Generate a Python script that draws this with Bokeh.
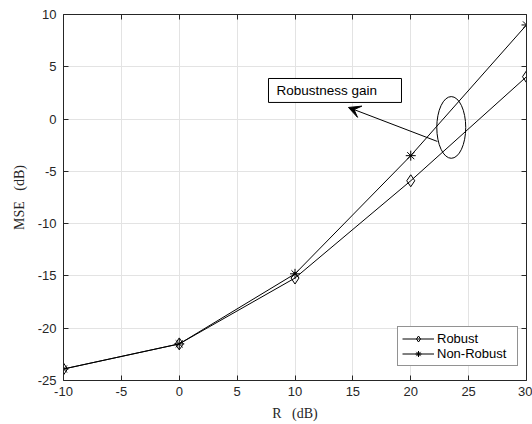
from bokeh.plotting import figure
from bokeh.models import (Range1d, LinearAxis, FixedTicker, Arrow, VeeHead,
                          BoxAnnotation, Label, Legend)
from bokeh.embed import file_html
from bokeh.resources import INLINE

# ---- data ----
R_dB = [-10, 0, 10, 20, 30]
mse_robust = [-23.9, -21.5, -15.2, -5.9, 4.05]
mse_nonrobust = [-23.9, -21.5, -14.8, -3.5, 9.0]
x_ticks = [-10, -5, 0, 5, 10, 15, 20, 25, 30]
y_ticks = [-25, -20, -15, -10, -5, 0, 5, 10]

DARK = "#262626"
SANS = "Liberation Sans"
SERIF = "Liberation Serif"

p = figure(width=532, height=424, output_backend="svg", toolbar_location=None,
           x_range=Range1d(-10, 30), y_range=Range1d(-25, 10),
           min_border_left=63, min_border_right=6, min_border_top=14,
           min_border_bottom=44, x_axis_label="R\u00a0\u00a0\u00a0(dB)",
           y_axis_label="MSE\u00a0\u00a0\u00a0(dB)")
p.outline_line_color = None
p.background_fill_color = "white"

for ax in (p.xaxis[0], p.yaxis[0]):
    ax.major_tick_in = 5
    ax.major_tick_out = 0
    ax.minor_tick_in = 0
    ax.minor_tick_out = 0
    ax.axis_line_color = DARK
    ax.major_tick_line_color = DARK
    ax.major_label_text_color = DARK
    ax.major_label_text_font = SANS
    ax.major_label_text_font_size = "13px"
    ax.axis_label_text_font = SERIF
    ax.axis_label_text_font_style = "normal"
    ax.axis_label_text_font_size = "14px"
    ax.axis_label_text_color = DARK
p.xaxis[0].ticker = FixedTicker(ticks=x_ticks)
p.yaxis[0].ticker = FixedTicker(ticks=y_ticks)
p.xaxis[0].major_label_overrides = {t: str(t) for t in x_ticks}
p.yaxis[0].major_label_overrides = {t: str(t) for t in y_ticks}
p.xaxis[0].major_label_standoff = 6
p.yaxis[0].major_label_standoff = 7
p.xaxis[0].axis_label_standoff = 7
p.yaxis[0].axis_label_standoff = 8

for loc, ticks in (("above", x_ticks), ("right", y_ticks)):
    ax = LinearAxis(ticker=FixedTicker(ticks=ticks), major_tick_in=5,
                    major_tick_out=0, minor_tick_in=0, minor_tick_out=0,
                    major_label_overrides={t: "" for t in ticks},
                    major_label_standoff=0,
                    axis_line_color=DARK, major_tick_line_color=DARK)
    p.add_layout(ax, loc)

p.xgrid.ticker = FixedTicker(ticks=x_ticks)
p.ygrid.ticker = FixedTicker(ticks=y_ticks)
p.grid.grid_line_color = "#e3e3e3"
p.grid.grid_line_width = 1

# ---- series ----
r1 = p.line(R_dB, mse_robust, line_color="black", line_width=1)
m1 = p.scatter(R_dB, mse_robust, marker="diamond", size=12,
               line_color="black", fill_color=None, line_width=1)
r2 = p.line(R_dB, mse_nonrobust, line_color="black", line_width=1)
m2 = p.scatter(R_dB, mse_nonrobust, marker="asterisk", size=10,
               line_color="black", line_width=1)

legend = Legend(items=[("Robust", [r1, m1]), ("Non-Robust", [r2, m2])],
                location=(334, 14), border_line_color=DARK, border_line_width=1,
                padding=4, spacing=0, margin=0, glyph_width=32, glyph_height=15,
                label_height=15, label_width=76, label_standoff=3,
                label_text_font=SANS, label_text_font_size="13px",
                label_text_color="black", background_fill_alpha=1)
p.add_layout(legend)

# ---- annotation ----
ell_x, ell_y, ell_w, ell_h = 23.5, -0.8, 2.5, 5.9
p.ellipse(x=[ell_x], y=[ell_y], width=ell_w, height=ell_h,
          fill_color=None, line_color="black", line_width=1)

p.add_layout(Arrow(x_start=22.3, y_start=-2.14, x_end=14.62, y_end=1.11,
                   line_color="black", line_width=1,
                   end=VeeHead(size=12, fill_color="black", line_color="black")))

p.add_layout(BoxAnnotation(left=7.71, right=19.2, bottom=1.59, top=3.88,
                           fill_color="white", fill_alpha=1,
                           line_color="black", line_width=1, line_alpha=1))
p.add_layout(Label(x=8.4, y=2.73, text="Robustness gain", text_font=SANS,
                   text_font_size="13.5px", text_baseline="middle",
                   text_color="black"))

open("out.html", "w").write(file_html(p, INLINE))
